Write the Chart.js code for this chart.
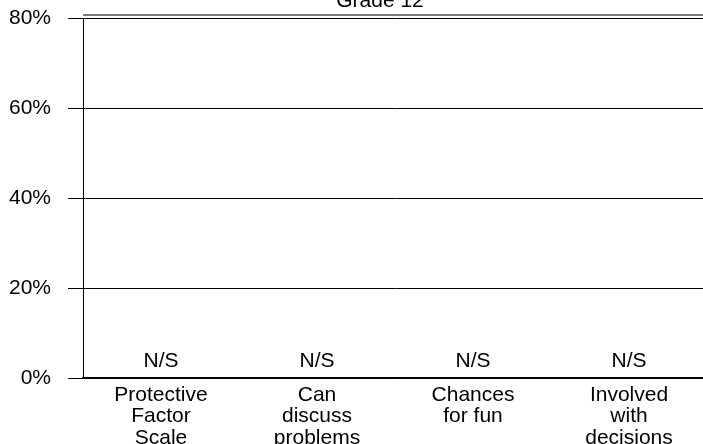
<!DOCTYPE html>
<html>
<head>
<meta charset="utf-8">
<script src="https://cdn.jsdelivr.net/npm/chart.js@4"></script>
<style>
html,body{margin:0;padding:0;background:#fff;overflow:hidden;}
#wrap{width:703px;height:444px;position:relative;overflow:hidden;}
</style>
</head>
<body>
<div id="wrap"><canvas id="c" width="707" height="444"></canvas></div>
<script>
const chartTitle = "Grade 12";
const categories = [
  ["Protective", "Factor", "Scale"],
  ["Can", "discuss", "problems"],
  ["Chances", "for fun"],
  ["Involved", "with", "decisions"]
];
const values = [0, 0, 0, 0];
const valueNotes = ["N/S", "N/S", "N/S", "N/S"];
const yTicks = [0, 20, 40, 60, 80];

const FONT = "'Liberation Sans', Arial, sans-serif";

const overlay = {
  id: 'overlay',
  afterDraw(chart) {
    const ctx = chart.ctx;
    const a = chart.chartArea;
    const xs = chart.scales.x, ys = chart.scales.y;
    ctx.save();
    ctx.strokeStyle = '#7a7a7a';
    ctx.lineWidth = 2;
    ctx.beginPath();
    ctx.moveTo(a.left, a.top - 3);
    ctx.lineTo(a.right, a.top - 3);
    ctx.stroke();
    ctx.fillStyle = '#000';
    ctx.font = "21px " + FONT;
    ctx.textAlign = 'center';
    ctx.textBaseline = 'alphabetic';
    ctx.fillText(chartTitle, 380, 7);
    valueNotes.forEach((t, i) => {
      const x = xs.getPixelForValue(i);
      const y = ys.getPixelForValue(values[i]);
      ctx.fillText(t, x, y - 11);
    });
    ctx.restore();
  }
};

new Chart(document.getElementById('c'), {
  type: 'bar',
  data: {
    labels: categories,
    datasets: [{
      data: values,
      backgroundColor: '#808080',
      borderWidth: 0
    }]
  },
  options: {
    responsive: false,
    animation: false,
    devicePixelRatio: 1,
    layout: { padding: { top: 18, right: 0, left: 0, bottom: 0 } },
    plugins: {
      legend: { display: false },
      title: { display: false },
      tooltip: { enabled: false }
    },
    scales: {
      x: {
        grid: { display: false, drawTicks: false },
        border: { display: true, color: '#000', width: 1.5 },
        ticks: {
          color: '#000',
          font: { family: FONT, size: 21, lineHeight: 1.03 },
          padding: 6,
          maxRotation: 0,
          autoSkip: false
        },
        afterFit(s) { s.height = 66; s.paddingLeft = 0; s.paddingRight = 0; }
      },
      y: {
        min: 0,
        max: 80,
        afterBuildTicks(s) { s.ticks = yTicks.map(v => ({ value: v })); },
        grid: { color: '#000', lineWidth: 1, tickLength: 15, drawTicks: true, tickColor: '#000' },
        border: { display: true, color: '#000', width: 1 },
        ticks: {
          color: '#000',
          font: { family: FONT, size: 21 },
          padding: 17,
          callback: v => v + '%'
        },
        afterFit(s) { s.width = 83; s.paddingTop = 0; s.paddingBottom = 0; }
      }
    }
  },
  plugins: [overlay]
});
</script>
</body>
</html>
